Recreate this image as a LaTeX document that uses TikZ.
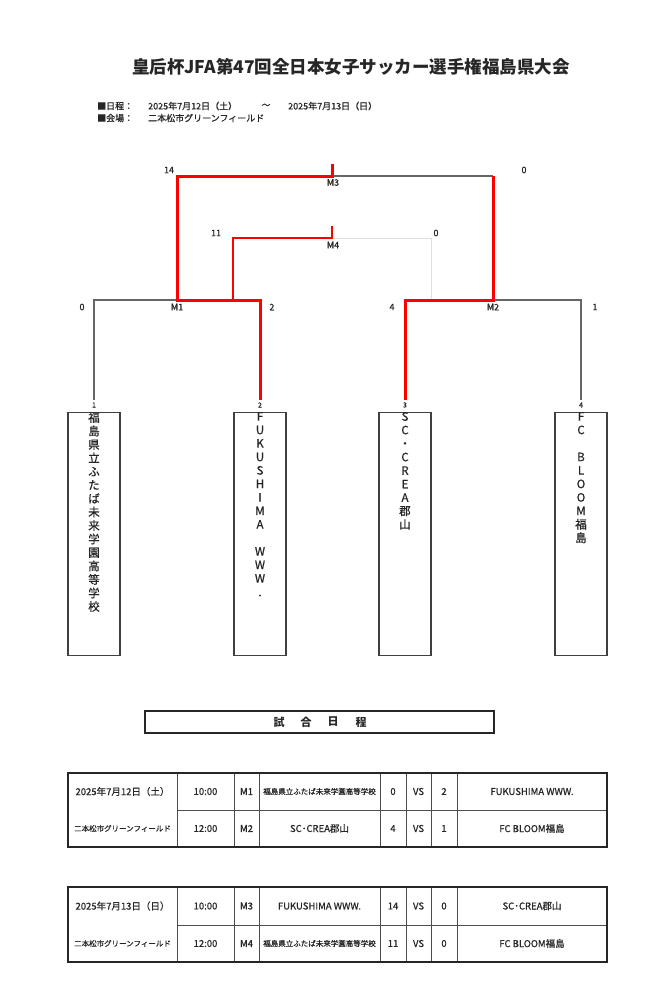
\documentclass[tikz,border=0pt]{standalone}
\usepackage{fontspec}
\setmainfont{Noto Sans CJK JP}
\newfontfamily\medfont{Noto Sans CJK JP}[FakeBold=0.7]
\begin{document}
\begin{tikzpicture}[x=1pt,y=-1pt,
  winline/.style={draw=red,line width=3pt},
  winthin/.style={draw=red,line width=2pt},
  loseline/.style={draw=black!60,line width=1.2pt},
  faintline/.style={draw=black!12,line width=1pt},
  lbl/.style={font=\medfont\fontsize{9}{9}\selectfont,inner sep=0,text=black!85},
  tiny/.style={font=\medfont\fontsize{7}{7}\selectfont,inner sep=0,text=black!85},
  teambox/.style={draw=black!75,line width=1.2pt,minimum width=52pt,minimum height=243pt,anchor=north,inner sep=0},
  vtext/.style={anchor=north,align=center,inner sep=0,font=\medfont\fontsize{11.5}{13.5}\selectfont,text=black!85},
  tabouter/.style={draw=black!85,line width=2pt},
  tabinner/.style={draw=black!70,line width=1pt},
  cell/.style={font=\medfont\fontsize{9.5}{9.5}\selectfont,inner sep=0,text=black!85},
  smallcell/.style={font=\medfont\fontsize{7.5}{7.5}\selectfont,inner sep=0,text=black!85},
  info/.style={font=\medfont\fontsize{9}{9}\selectfont,inner sep=0,anchor=west,text=black!85},
  kanji/.style={font=\fontsize{11}{11}\selectfont\bfseries,inner sep=0,text=black!85}
]
\useasboundingbox (0,0) rectangle (667,986);
\fill[white] (0,0) rectangle (667,986);

% title
\node[font=\fontsize{17.5}{17.5}\selectfont\bfseries,inner sep=0,text=black!85] (title) at (351,67) {皇后杯JFA第47回全日本女子サッカー選手権福島県大会};
\node[info] (i1) at (97,106) {■日程：};
\node[info] (i2) at (148,106) {2025年7月12日（土）};
\node[info,anchor=center] (i3) at (266,106) {～};
\node[info] (i4) at (288,106) {2025年7月13日（日）};
\node[info] (i5) at (97,118) {■会場：};
\node[info] (i6) at (148,118) {二本松市グリーンフィールド};

% bracket coordinates
\coordinate (m1l) at (94,300);
\coordinate (m1c) at (177,300);
\coordinate (m1r) at (260,300);
\coordinate (m2l) at (405,300);
\coordinate (m2c) at (493,300);
\coordinate (m2r) at (581,300);
\coordinate (m4l) at (233,238);
\coordinate (m4c) at (332,238);
\coordinate (m4r) at (431,238);
\coordinate (m4s) at (332,226);
\coordinate (m4b) at (233,300);
\coordinate (m4rb) at (431,300);
\coordinate (m3l) at (177,176);
\coordinate (m3c) at (332,176);
\coordinate (m3r) at (493,176);
\coordinate (m3s) at (332,164);

% team boxes
\node[teambox] (t1) at (94,412) {};
\node[teambox] (t2) at (260,412) {};
\node[teambox] (t3) at (405,412) {};
\node[teambox] (t4) at (581,412) {};
\node[tiny] (n1) at (94,405) {1};
\node[tiny] (n2) at (260,405) {2};
\node[tiny] (n3) at (405,405) {3};
\node[tiny] (n4) at (581,405) {4};

% losing / faint lines
\draw[faintline] (m4c) -- (m4r) -- (m4rb);
\draw[loseline] (m1c) -- (m1l) -- ([yshift=2pt]n1.north);
\draw[loseline] (m2c) -- (m2r) -- ([yshift=2pt]n4.north);
\draw[loseline] (m3c) -- (m3r);
% winning lines
\draw[winthin] (m4b) -- (m4l) -- (m4c) -- (m4s);
\draw[winline] ([yshift=2pt]n2.north) -- (m1r) -- (m1c) -- (m3l) -- (m3c) -- (m3s);
\draw[winline] ([yshift=2pt]n3.north) -- (m2l) -- (m2c) -- (m3r);

% bracket labels
\node[lbl] (s14) at (169,170) {14};
\node[lbl] (s0a) at (524,170) {0};
\node[lbl] (s11) at (216,233) {11};
\node[lbl] (s0b) at (436,233) {0};
\node[lbl] (lm3) at (333,182.5) {M3};
\node[lbl] (lm4) at (333,245) {M4};
\node[lbl] (s0c) at (82,307) {0};
\node[lbl] (lm1) at (177,307) {M1};
\node[lbl] (s2) at (272,307) {2};
\node[lbl] (s4) at (392,307) {4};
\node[lbl] (lm2) at (493,307) {M2};
\node[lbl] (s1) at (595,307) {1};

% team names
\node[vtext] (v1) at (94,412) {福\\島\\県\\立\\ふ\\た\\ば\\未\\来\\学\\園\\高\\等\\学\\校};
\node[vtext] (v2) at (260,412) {F\\U\\K\\U\\S\\H\\I\\M\\A\\\mbox{}\\W\\W\\W\\.};
\node[vtext] (v3) at (405,412) {S\\C\\・\\C\\R\\E\\A\\郡\\山};
\node[vtext] (v4) at (581,412) {F\\C\\\mbox{}\\B\\L\\O\\O\\M\\福\\島};

% schedule title
\node[draw=black!85,line width=2pt,minimum width=349pt,minimum height=22pt,inner sep=0] (sched) at (319.5,722) {};
\node[kanji] (k1) at (279,722) {試};
\node[kanji] (k2) at (306,722) {合};
\node[kanji] (k3) at (333,722) {日};
\node[kanji] (k4) at (361,722) {程};

% table 1
\foreach \x in {177,234,259,380,406,431,457} \draw[tabinner] (\x,773) -- (\x,847);
\draw[tabinner] (177,810) -- (607,810);
\draw[tabouter] (68,773) rectangle (607,847);
\node[cell] (a1) at (122.5,791.5) {2025年7月12日（土）};
\node[cell] (a2) at (205.5,791.5) {10:00};
\node[cell] (a3) at (246.5,791.5) {M1};
\node[smallcell] (a4) at (319.5,791.5) {福島県立ふたば未来学園高等学校};
\node[cell] (a5) at (393,791.5) {0};
\node[cell] (a6) at (418.5,791.5) {VS};
\node[cell] (a7) at (444,791.5) {2};
\node[cell] (a8) at (532,791.5) {FUKUSHIMA WWW.};
\node[smallcell] (b1) at (122.5,828.5) {二本松市グリーンフィールド};
\node[cell] (b2) at (205.5,828.5) {12:00};
\node[cell] (b3) at (246.5,828.5) {M2};
\node[cell] (b4) at (319.5,828.5) {SC･CREA郡山};
\node[cell] (b5) at (393,828.5) {4};
\node[cell] (b6) at (418.5,828.5) {VS};
\node[cell] (b7) at (444,828.5) {1};
\node[cell] (b8) at (532,828.5) {FC BLOOM福島};

% table 2
\foreach \x in {177,234,259,380,406,431,457} \draw[tabinner] (\x,887) -- (\x,962);
\draw[tabinner] (177,925) -- (607,925);
\draw[tabouter] (68,887) rectangle (607,962);
\node[cell] (c1) at (122.5,906) {2025年7月13日（日）};
\node[cell] (c2) at (205.5,906) {10:00};
\node[cell] (c3) at (246.5,906) {M3};
\node[cell] (c4) at (319.5,906) {FUKUSHIMA WWW.};
\node[cell] (c5) at (393,906) {14};
\node[cell] (c6) at (418.5,906) {VS};
\node[cell] (c7) at (444,906) {0};
\node[cell] (c8) at (532,906) {SC･CREA郡山};
\node[smallcell] (d1) at (122.5,943.5) {二本松市グリーンフィールド};
\node[cell] (d2) at (205.5,943.5) {12:00};
\node[cell] (d3) at (246.5,943.5) {M4};
\node[smallcell] (d4) at (319.5,943.5) {福島県立ふたば未来学園高等学校};
\node[cell] (d5) at (393,943.5) {11};
\node[cell] (d6) at (418.5,943.5) {VS};
\node[cell] (d7) at (444,943.5) {0};
\node[cell] (d8) at (532,943.5) {FC BLOOM福島};
\end{tikzpicture}
\end{document}
